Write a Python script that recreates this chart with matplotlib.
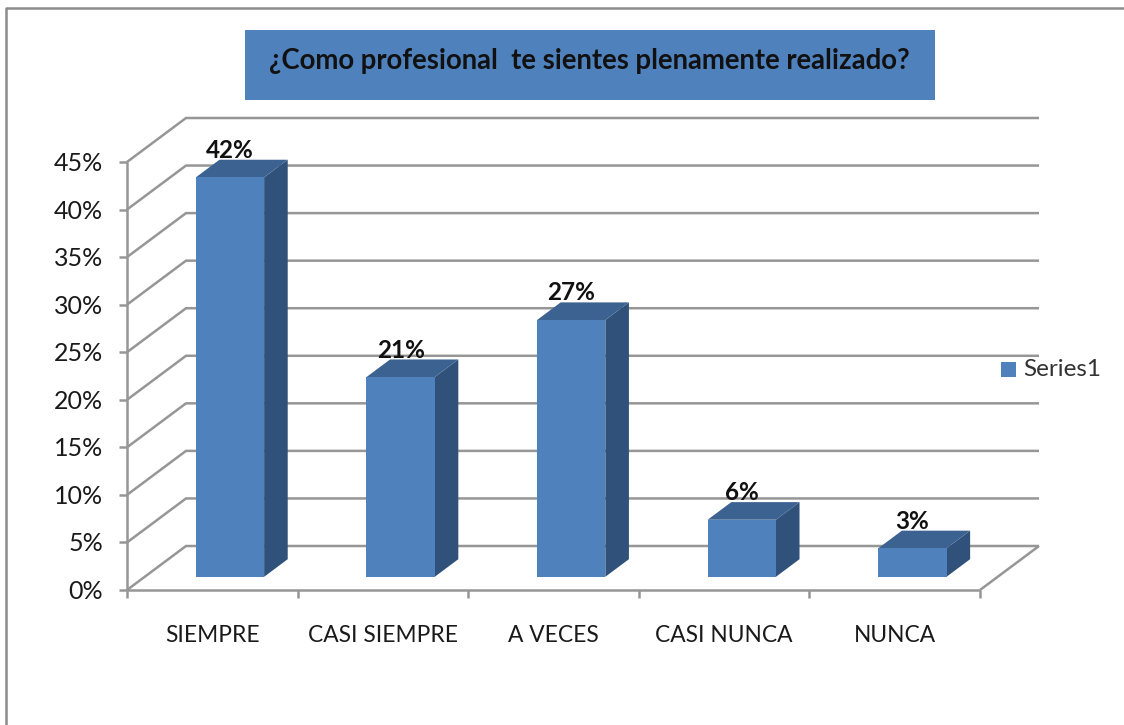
import matplotlib
matplotlib.use("Agg")
import matplotlib.pyplot as plt
from matplotlib.patches import Polygon, Rectangle
from matplotlib.lines import Line2D

categories = ["SIEMPRE", "CASI SIEMPRE", "A VECES", "CASI NUNCA", "NUNCA"]
values = [42, 21, 27, 6, 3]
yticks = [0, 5, 10, 15, 20, 25, 30, 35, 40, 45]
title = "¿Como profesional  te sientes plenamente realizado?"
legend_label = "Series1"

W, H = 1124, 725
plt.rcParams['font.family'] = ['Lato', 'DejaVu Sans']
plt.rcParams['lines.solid_capstyle'] = 'butt'
fig = plt.figure(figsize=(W / 100, H / 100), dpi=100)
bg = fig.add_axes([0, 0, 1, 1])
bg.set_xlim(0, W); bg.set_ylim(H, 0); bg.axis('off')

# frame and title box
bg.add_line(Line2D([6, 6, 1124], [725, 8, 8], color='#8c8c8c', lw=1.8))
bg.add_patch(Rectangle((245, 30), 690, 70, color='#4F81BD', lw=0))
bg.text(589, 61, title, ha='center', va='center', fontsize=19.8, fontweight='bold', color='#111111')

# plot axes: front plane of the 3D box
L, R, B, T = 127, 980, 590, 162
ax = fig.add_axes([L / W, 1 - B / H, (R - L) / W, (B - T) / H])
ax.set_xlim(0, len(categories))
ax.set_ylim(0, 45)
ax.axis('off')

px_x = (R - L) / len(categories)
px_y = (B - T) / 45
dx = 59 / px_x
dy = 44 / px_y

def ob(x, y, d):
    return x + d * dx, y + d * dy

grid = '#969696'
lw = 1.8
n = len(categories)
for v in yticks:
    xs, ys = zip(ob(0, v, 0), ob(0, v, 1), ob(n, v, 1))
    ax.plot(xs, ys, color=grid, lw=lw, clip_on=False, solid_joinstyle='miter')
    ax.plot([-8 / px_x, 0], [v, v], color=grid, lw=lw, clip_on=False)
    ax.text(-24 / px_x, v - 1.5 / px_y, f"{v}%", ha='right', va='center', fontsize=18, color='#1a1a1a')

# axes and floor
ax.plot([0, 0], [-8 / px_y, 45], color=grid, lw=lw, clip_on=False)
ax.plot([0, n], [0, 0], color=grid, lw=lw, clip_on=False)
xs, ys = zip(ob(n, 0, 1), ob(n, 0, 0))
ax.plot(xs, ys, color=grid, lw=lw, clip_on=False)
for i in range(1, n + 1):
    ax.plot([i, i], [0, -8 / px_y], color=grid, lw=lw, clip_on=False)

# bars
front_c, top_c, side_c = '#4F81BD', '#3B6290', '#30527A'
d0, d1, bw = 0.3, 0.7, 0.4
for i, (c, v) in enumerate(zip(categories, values)):
    x0 = i + 0.5 - bw / 2
    x1 = i + 0.5 + bw / 2
    ax.add_patch(Polygon([ob(x1, 0, d0), ob(x1, 0, d1), ob(x1, v, d1), ob(x1, v, d0)],
                         color=side_c, lw=0, clip_on=False, zorder=4))
    ax.add_patch(Polygon([ob(x0, v, d0), ob(x1, v, d0), ob(x1, v, d1), ob(x0, v, d1)],
                         color=top_c, lw=0, clip_on=False, zorder=4))
    ax.add_patch(Polygon([ob(x0, 0, d0), ob(x1, 0, d0), ob(x1, v, d0), ob(x0, v, d0)],
                         color=front_c, lw=0, clip_on=False, zorder=5))
    lx, ly = ob(i + 0.5, v, d0)
    ax.text(lx, ly + 27 / px_y, f"{v}%", ha='center', va='center', fontsize=17.5,
            fontweight='bold', color='#111111', zorder=6)
    ax.text(i + 0.5, -45.5 / px_y, c, ha='center', va='center', fontsize=16.4, color='#1a1a1a')

# legend
bg.add_patch(Rectangle((1001, 362), 15, 15, color='#4F81BD', lw=0))
bg.text(1023, 369, legend_label, ha='left', va='center', fontsize=17.5, color='#333333')

fig.savefig('out.png', dpi=100)
